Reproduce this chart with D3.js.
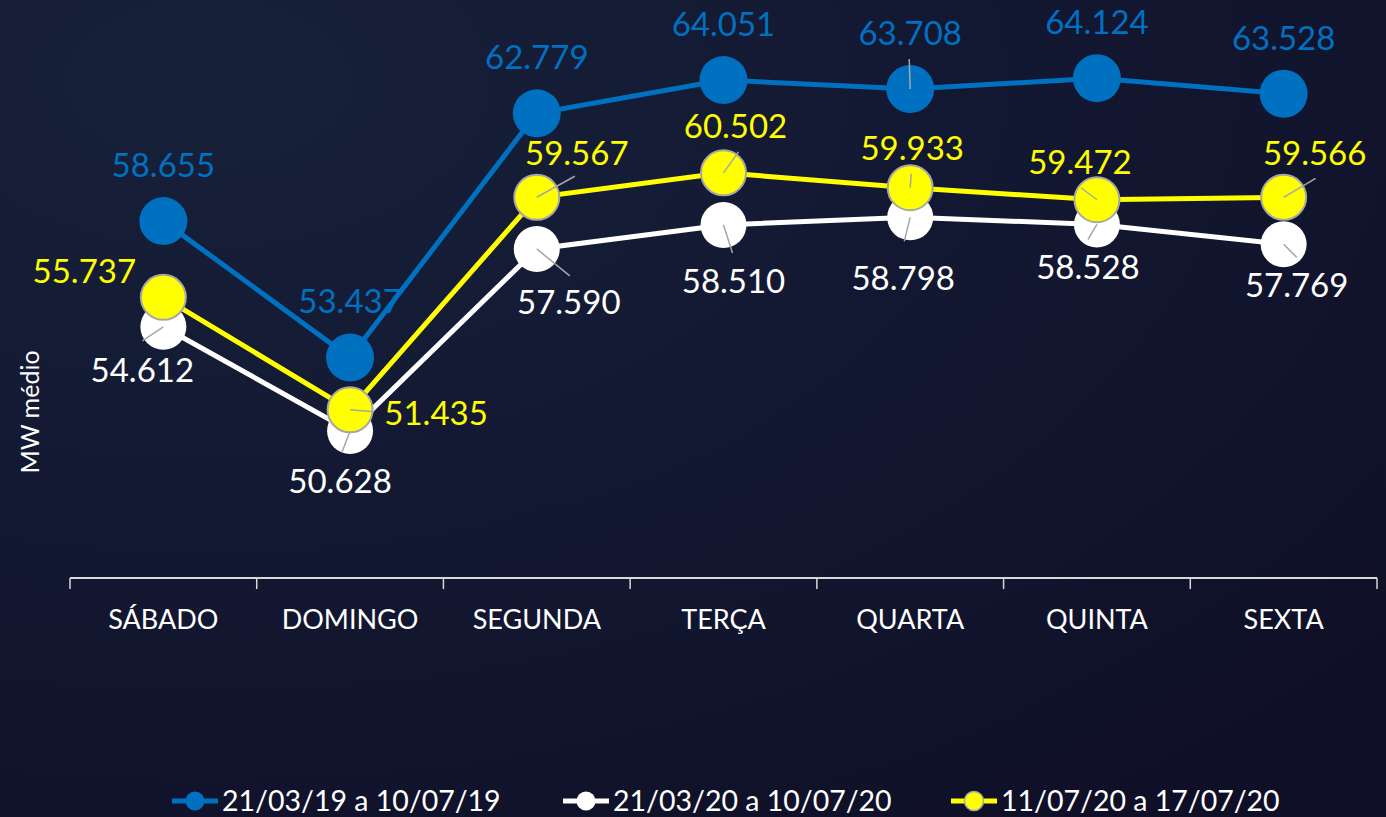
<!DOCTYPE html>
<html><head><meta charset="utf-8">
<script src="https://cdn.jsdelivr.net/npm/d3@7"></script>
<style>html,body{margin:0;padding:0;background:#121730;}svg{display:block;}</style>
</head><body>
<svg id="chart" width="1386" height="817"></svg>
<script>
const categories = ["SÁBADO","DOMINGO","SEGUNDA","TERÇA","QUARTA","QUINTA","SEXTA"];
const seriesNames = ["21/03/19 a 10/07/19","21/03/20 a 10/07/20","11/07/20 a 17/07/20"];
const values2019 = [58.655,53.437,62.779,64.051,63.708,64.124,63.528];
const values2020 = [54.612,50.628,57.590,58.510,58.798,58.528,57.769];
const valuesRecent = [55.737,51.435,59.567,60.502,59.933,59.472,59.566];
const yAxisTitle = "MW médio";

// layout: label offsets (px) relative to marker and leader line ends
const labelOffsets = [
  [[0,-56],[0,-56],[0,-56],[0,-56],[0,-56],[0,-56],[0,-56]],
  [[-21,43],[-10,50],[32,53],[10,56],[-7,61],[-9,43],[13,41]],
  [[-79,-26],[86,3],[40,-44],[12,-47],[2,-40],[-17,-38],[31,-44]]
];
const leaderEnds = [
  [null,null,null,null,[-1,-30],null,null],
  [[-21,14],[-8,21],[33,27],[9,28],[-6,24],[-9,15],[13,13]],
  [null,[24,2],[38,-21],[15,-21],[1,-14],[-16,-12],[32,-19]]
];
const styles = [
  {color:"#0070c0", r:24, stroke:"none", label:"#0070c0"},
  {color:"#ffffff", r:23, stroke:"none", label:"#ffffff"},
  {color:"#ffff00", r:22.5, stroke:"#a6a6a6", label:"#ffff00"}
];
const allSeries = [values2019, values2020, valuesRecent];

const svg = d3.select("#chart");
const defs = svg.append("defs");
const grad = defs.append("radialGradient").attr("id","bg")
  .attr("cx","0.15").attr("cy","0.1").attr("r","1.1");
grad.append("stop").attr("offset","0").attr("stop-color","#172139");
grad.append("stop").attr("offset","0.5").attr("stop-color","#131832");
grad.append("stop").attr("offset","1").attr("stop-color","#0f1027");
svg.append("rect").attr("width",1386).attr("height",817).attr("fill","url(#bg)");

const font = "Lato, 'Open Sans', sans-serif";
const x = d3.scaleBand().domain(categories).range([70,1377]);
const y = d3.scaleLinear().domain([45,67]).range([578,3]);
const cx = c => x(c) + x.bandwidth()/2;

// x axis
const gAxis = svg.append("g").attr("transform","translate(0,578)");
gAxis.append("line").attr("x1",70).attr("x2",1377).attr("stroke","#d9d9d9").attr("stroke-width",2);
const bounds = d3.range(categories.length+1).map(i => 70 + i*x.bandwidth());
gAxis.selectAll("line.tk").data(bounds).join("line").attr("class","tk")
  .attr("x1",d=>d).attr("x2",d=>d).attr("y1",0).attr("y2",11)
  .attr("stroke","#d9d9d9").attr("stroke-width",1.5);
gAxis.selectAll("text.cat").data(categories).join("text").attr("class","cat")
  .attr("x",d=>cx(d)).attr("y",51).attr("text-anchor","middle")
  .attr("fill","#ffffff").attr("font-family",font).attr("font-size",27).text(d=>d);

// y title
svg.append("text").attr("transform","translate(39,412) rotate(-90)")
  .attr("text-anchor","middle").attr("fill","#ffffff").attr("font-family",font)
  .attr("font-size",25).text(yAxisTitle);

const line = d3.line().x((d,i)=>cx(categories[i])).y(d=>y(d));

allSeries.forEach((vals,si)=>{
  const st = styles[si];
  const g = svg.append("g");
  g.append("path").datum(vals).attr("d",line).attr("fill","none")
    .attr("stroke",st.color).attr("stroke-width",5);
  g.selectAll("circle").data(vals).join("circle")
    .attr("cx",(d,i)=>cx(categories[i])).attr("cy",d=>y(d)).attr("r",st.r)
    .attr("fill",st.color).attr("stroke",st.stroke).attr("stroke-width",st.stroke==="none"?0:2);
});

// leaders
allSeries.forEach((vals,si)=>{
  const g = svg.append("g");
  vals.forEach((v,i)=>{
    const px = cx(categories[i]), py = y(v);
    const le = leaderEnds[si][i];
    if(le){
      g.append("line").attr("x1",px).attr("y1",py).attr("x2",px+le[0]).attr("y2",py+le[1])
        .attr("stroke","#a6a6a6").attr("stroke-width",1.5);
    }
  });
});
// labels
allSeries.forEach((vals,si)=>{
  const st = styles[si];
  const g = svg.append("g");
  vals.forEach((v,i)=>{
    const px = cx(categories[i]), py = y(v);
    const o = labelOffsets[si][i];
    g.append("text").attr("x",px+o[0]).attr("y",py+o[1]).attr("dy","0.36em")
      .attr("text-anchor","middle").attr("fill",st.label).attr("font-family",font)
      .attr("font-size",33).text(d3.format(".3f")(v));
  });
});

// legend
const legendX = [172,563,951];
const lg = svg.append("g");
seriesNames.forEach((name,si)=>{
  const st = styles[si];
  const lx = legendX[si], ly = 801;
  lg.append("line").attr("x1",lx).attr("x2",lx+46).attr("y1",ly).attr("y2",ly)
    .attr("stroke",st.color).attr("stroke-width",5);
  lg.append("circle").attr("cx",lx+23).attr("cy",ly).attr("r",9.5).attr("fill",st.color)
    .attr("stroke",st.stroke).attr("stroke-width",st.stroke==="none"?0:1.5);
  lg.append("text").attr("x",lx+50).attr("y",ly).attr("dy","0.36em")
    .attr("fill","#ffffff").attr("font-family",font).attr("font-size",28.5).text(name);
});
</script>
</body></html>
